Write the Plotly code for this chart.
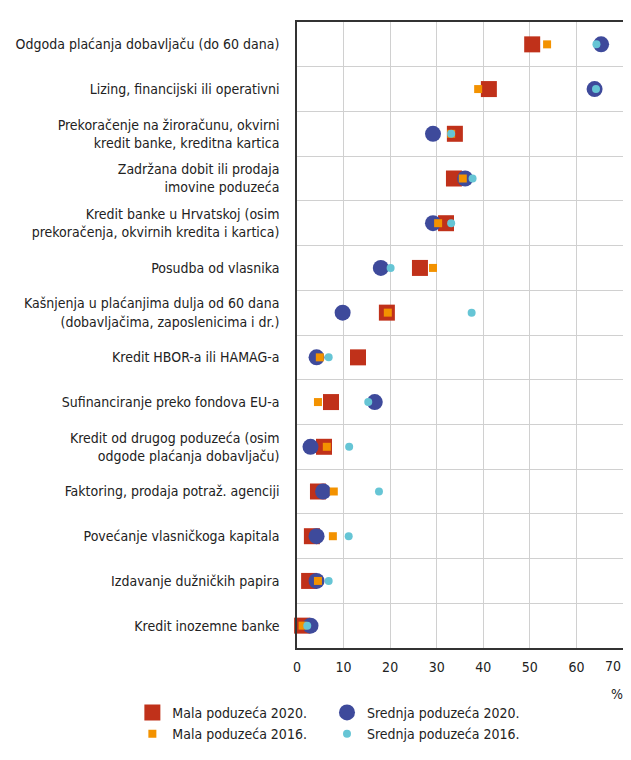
import plotly.graph_objects as go

categories = [
    "Odgoda plaćanja dobavljaču (do 60 dana)",
    "Lizing, financijski ili operativni",
    "Prekoračenje na žiroračunu, okvirni<br>kredit banke, kreditna kartica",
    "Zadržana dobit ili prodaja<br>imovine poduzeća",
    "Kredit banke u Hrvatskoj (osim<br>prekoračenja, okvirnih kredita i kartica)",
    "Posudba od vlasnika",
    "Kašnjenja u plaćanjima dulja od 60 dana<br>(dobavljačima, zaposlenicima i dr.)",
    "Kredit HBOR-a ili HAMAG-a",
    "Sufinanciranje preko fondova EU-a",
    "Kredit od drugog poduzeća (osim<br>odgode plaćanja dobavljaču)",
    "Faktoring, prodaja potraž. agenciji",
    "Povećanje vlasničkoga kapitala",
    "Izdavanje dužničkih papira",
    "Kredit inozemne banke",
]

mala_2020 = [50.5, 41.2, 33.9, 33.7, 32.0, 26.4, 19.3, 13.1, 7.3, 5.8, 4.5, 3.2, 2.6, 1.1]
srednja_2020 = [65.3, 63.9, 29.2, 36.1, 29.2, 18.0, 9.8, 4.2, 16.7, 2.9, 5.6, 4.2, 4.2, 2.9]
mala_2016 = [53.7, 38.9, 33.1, 35.6, 30.3, 29.2, 19.5, 4.9, 4.5, 6.4, 7.9, 7.7, 4.5, 1.2]
srednja_2016 = [64.3, 64.2, 33.1, 37.7, 33.1, 20.1, 37.5, 6.8, 15.3, 11.2, 17.6, 11.1, 6.8, 2.2]

x_ticks = [0, 10, 20, 30, 40, 50, 60, 70]
x_ticktext = ["0", "10", "20", "30", "40", "50", "60", "70"]

FONT = "DejaVu Sans Condensed, sans-serif"
FS = 14
ypos = list(range(len(categories)))

fig = go.Figure()
fig.add_trace(go.Scatter(x=mala_2020, y=ypos, mode="markers", name="Mala poduzeća 2020.",
                         marker=dict(symbol="square", size=16, color="#c0311a"),
                         cliponaxis=False, legend="legend"))
fig.add_trace(go.Scatter(x=srednja_2020, y=ypos, mode="markers", name="Srednja poduzeća 2020.",
                         marker=dict(symbol="circle", size=16, color="#3e4a9b"),
                         cliponaxis=False, legend="legend2"))
fig.add_trace(go.Scatter(x=mala_2016, y=ypos, mode="markers", name="Mala poduzeća 2016.",
                         marker=dict(symbol="square", size=8, color="#f39200"),
                         cliponaxis=False, legend="legend"))
fig.add_trace(go.Scatter(x=srednja_2016, y=ypos, mode="markers", name="Srednja poduzeća 2016.",
                         marker=dict(symbol="circle", size=8, color="#66c5d5"),
                         cliponaxis=False, legend="legend2"))

legend_common = dict(orientation="v", yanchor="top", xanchor="left",
                     font=dict(family=FONT, size=FS, color="#222"),
                     bgcolor="rgba(0,0,0,0)", itemsizing="trace", tracegroupgap=0)

# the last x tick label sits flush with the right edge of the plot, as in the original
axis_ticktext = x_ticktext[:-1] + [""]

# page body has an 8px margin, so the figure is 8px smaller and margins compensate
fig.update_layout(
    width=623, height=752,
    margin=dict(l=289, r=8, t=14, b=112, autoexpand=False),
    paper_bgcolor="white", plot_bgcolor="white",
    font=dict(family=FONT, size=FS, color="#222"),
    showlegend=True,
    legend=dict(x=-0.505, y=-0.078, **legend_common),
    legend2=dict(x=0.092, y=-0.078, **legend_common),
    xaxis=dict(range=[0, 70], tickvals=x_ticks, ticktext=axis_ticktext,
               showgrid=True, gridcolor="#d0d0d0", gridwidth=1, zeroline=False,
               showline=True, linecolor="#333", linewidth=1.5, mirror=True,
               ticks="", automargin=False, ticklabelstandoff=5,
               tickfont=dict(size=FS, family=FONT, color="#222")),
    yaxis=dict(range=[13.5, -0.5], tickvals=ypos, ticktext=categories,
               showgrid=False, zeroline=False, automargin=False,
               showline=True, linecolor="#333", linewidth=1.5, mirror=True,
               ticks="", ticklabelstandoff=13,
               minor=dict(tick0=0.5, dtick=1, showgrid=True, gridcolor="#d0d0d0", gridwidth=1, ticks=""),
               tickfont=dict(size=FS, family=FONT, color="#222")),
    shapes=[dict(type="line", xref="paper", yref="paper", x0=-0.880, x1=1.0, y0=1.0256, y1=1.0256,
                 line=dict(color="#808080", width=2.5))],
    annotations=[
        dict(text=x_ticktext[-1], xref="x", yref="paper", x=x_ticks[-1], y=-0.0288,
             xanchor="right", yanchor="middle", showarrow=False,
             font=dict(family=FONT, size=FS, color="#222")),
        dict(text="%", xref="paper", yref="paper", x=1.0, y=-0.058, xanchor="right", xshift=2,
             yanchor="top", showarrow=False, font=dict(family=FONT, size=FS, color="#222")),
    ],
)

fig.write_html("out.html")
